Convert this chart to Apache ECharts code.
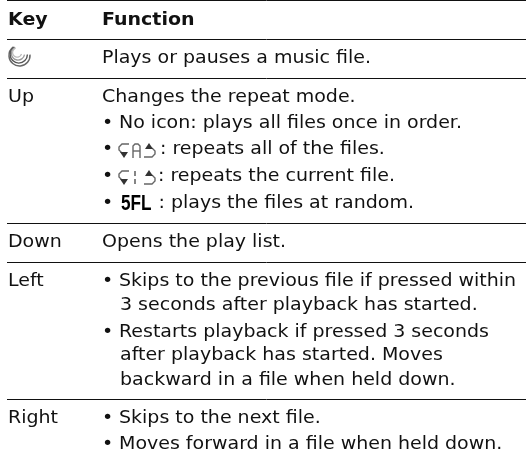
<!DOCTYPE html>
<html>
<head>
<meta charset="utf-8">
<style>
  html, body { margin: 0; padding: 0; background: #fff; }
  #main { width: 526px; height: 462px; }
</style>
<script src="https://cdn.jsdelivr.net/npm/echarts@6/dist/echarts.min.js"></script>
</head>
<body>
<div id="main"></div>
<script>
var headers = ['Key', 'Function'];
var keys = ['Up', 'Down', 'Left', 'Right'];
var functionLines = [
  'Plays or pauses a music file.',
  'Changes the repeat mode.',
  'No icon: plays all files once in order.',
  ': repeats all of the files.',
  ': repeats the current file.',
  ': plays the files at random.',
  'Opens the play list.',
  'Skips to the previous file if pressed within',
  '3 seconds after playback has started.',
  'Restarts playback if pressed 3 seconds',
  'after playback has started. Moves',
  'backward in a file when held down.',
  'Skips to the next file.',
  'Moves forward in a file when held down.'
];
var shuffleLabel = '5FL';

// layout
var ruleY = [0.5, 39.5, 78.5, 223.5, 262.5, 399.5];
var keyY = [101, 246, 285, 422];
var funcY = [62, 101, 127, 153, 180, 207, 246, 285, 309, 336, 359, 384, 422, 448];
var funcX = [102, 102, 119, 160, 158, 158.5, 102, 119, 120, 119, 120, 120, 119, 119];
var bulletRows = [2, 3, 4, 5, 7, 9, 12, 13];

var font = '"DejaVu Sans", Verdana, sans-serif';
var fontSize = 17;
var stretch = 1.117;

function label(text, x, baseline, bold) {
  return {
    type: 'text',
    x: x,
    y: baseline - 11.5,
    scaleX: stretch,
    style: {
      text: text,
      fill: '#111',
      font: (bold ? 'bold ' : '') + fontSize + 'px ' + font
    }
  };
}

function stroke(points, color, width) {
  return {
    type: 'polyline',
    shape: { points: points },
    style: { stroke: color || '#666', lineWidth: width || 1.4, fill: null }
  };
}

function arc(cx, cy, r, from, to, color, width) {
  return {
    type: 'arc',
    shape: { cx: cx, cy: cy, r: r, startAngle: from * Math.PI / 180, endAngle: to * Math.PI / 180, clockwise: true },
    style: { stroke: color, lineWidth: width, fill: null }
  };
}

var elements = [];
ruleY.forEach(function (y) {
  elements.push({
    type: 'line',
    shape: { x1: 7, y1: y, x2: 526, y2: y },
    style: { stroke: '#111', lineWidth: 1 }
  });
});
elements.push(label(headers[0], 8, 24, true));
elements.push(label(headers[1], 102, 24, true));
keys.forEach(function (k, i) {
  elements.push(label(k, 8, keyY[i]));
});
functionLines.forEach(function (t, i) {
  elements.push(label(t, funcX[i], funcY[i]));
});
bulletRows.forEach(function (r) {
  elements.push(label('•', 102, funcY[r]));
});

// music key icon
elements.push(arc(19.5, 55.5, 10.5, -5, 235, '#666', 1.5));
elements.push(arc(18.8, 54.5, 8.6, 0, 240, '#555', 1.4));
elements.push(arc(18, 53.5, 6.6, 10, 245, '#999', 1.3));
elements.push(arc(17.2, 52.5, 4.6, 20, 250, '#bbb', 1.2));

// repeat icons, left and right arrows
function repeatArrows(dx, dy) {
  var p = function (x, y) { return [x + dx, y + dy]; };
  elements.push(stroke([p(129, 144), p(122, 144), p(119, 147), p(119, 150), p(122, 153)]));
  elements.push({
    type: 'polygon',
    shape: { points: [p(120, 152), p(128, 152), p(124, 158)] },
    style: { fill: '#333' }
  });
  elements.push(stroke([p(144, 157), p(152, 157), p(155, 154), p(155, 151), p(152, 148)]));
  elements.push({
    type: 'polygon',
    shape: { points: [p(145, 149), p(153, 149), p(149, 143)] },
    style: { fill: '#333' }
  });
}
repeatArrows(0, 0);
repeatArrows(0, 27);
// the A between the arrows
elements.push(stroke([[133, 158], [133, 146], [135, 144], [138, 144], [140, 146], [140, 158]]));
elements.push(stroke([[133, 151], [140, 151]]));
// the single-file bar
elements.push(stroke([[135, 171], [135, 176]], '#666', 1.6));
elements.push(stroke([[135, 179], [135, 184]], '#666', 1.6));

elements.push({
  type: 'text',
  x: 121,
  y: 193,
  scaleX: 0.78,
  style: {
    text: shuffleLabel,
    fill: '#000',
    font: 'bold 22px "Liberation Sans", sans-serif'
  }
});

var chart = echarts.init(document.getElementById('main'));
chart.setOption({
  backgroundColor: '#fff',
  animation: false,
  graphic: { elements: elements }
});
</script>
</body>
</html>
